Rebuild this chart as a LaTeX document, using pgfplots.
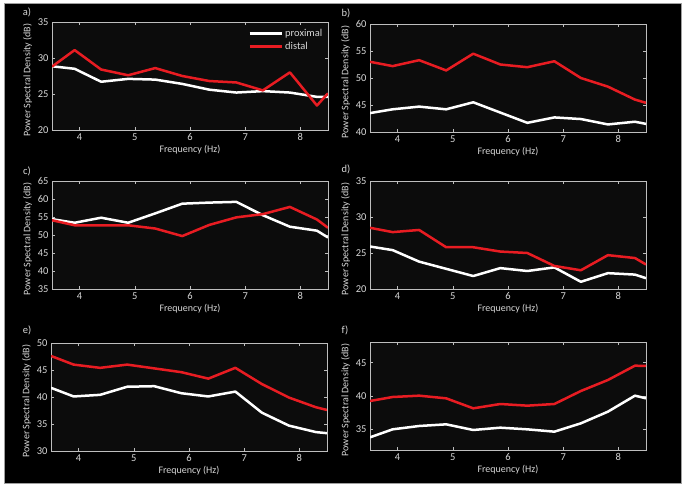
\documentclass[border=0pt]{standalone}
\usepackage{fontspec}
\setmainfont{Carlito}
\usepackage{pgfplots}
\pgfplotsset{compat=1.18}
\definecolor{fg}{RGB}{215,215,215}
\definecolor{ax}{RGB}{190,190,190}
\definecolor{pred}{RGB}{232,28,34}
\definecolor{axbg}{RGB}{12,12,12}

\pgfplotsset{psd/.style={
  scale only axis, width=276pt, height=108pt,
  xmin=3.5, xmax=8.5, xtick={4,5,6,7,8},
  axis line style={ax, line width=0.6pt},
  tick style={ax, line width=0.5pt}, tick align=inside, major tick length=3pt,
  axis background/.style={fill=axbg},
  ticklabel style={fg, font=\fontsize{10.5}{11}\selectfont},
  label style={fg, font=\fontsize{10}{12}\selectfont},
  xlabel={Frequency (Hz)}, ylabel={Power Spectral Density (dB)},
  xlabel style={yshift=2pt}, ylabel style={yshift=-1pt, xshift=-4pt},
  /pgf/number format/assume math mode=true,
  every axis plot/.append style={line width=2.5pt, line join=round, mark=none},
}}

% x = frequency (Hz), y = PSD (dB)
\pgfplotstableread{
f pa da pb db pc dc pd dd pe de pf df
3.50 28.85 28.8 43.5 53.0 54.4 54.1 25.9 28.5 41.7 47.6 33.8 39.25
3.91 28.5 31.1 44.2 52.2 53.4 52.7 25.4 27.9 40.1 46.0 35.0 39.85
4.39 26.7 28.4 44.7 53.3 54.8 52.7 23.8 28.2 40.4 45.4 35.5 40.05
4.88 27.1 27.6 44.2 51.4 53.4 52.7 22.8 25.8 41.9 46.0 35.75 39.65
5.37 27.0 28.6 45.5 54.5 56.0 51.8 21.8 25.8 42.0 45.3 34.9 38.15
5.86 26.4 27.5 43.6 52.5 58.7 49.7 22.9 25.2 40.7 44.6 35.25 38.8
6.35 25.6 26.8 41.7 52.0 59.0 52.8 22.5 25.0 40.1 43.4 35.0 38.55
6.84 25.2 26.6 42.7 53.1 59.2 54.9 23.0 23.2 41.0 45.4 34.65 38.8
7.32 25.4 25.5 42.4 50.0 55.5 55.8 21.0 22.6 37.1 42.4 35.9 40.75
7.81 25.2 28.0 41.4 48.4 52.3 57.8 22.2 24.7 34.7 39.9 37.65 42.4
8.30 24.6 23.4 41.9 46.0 51.2 54.3 22.0 24.3 33.5 38.1 40.05 44.55
8.50 24.6 25.1 41.5 45.4 49.3 52.0 21.5 23.4 33.3 37.6 39.65 44.5
}\psd

\begin{document}
\begin{tikzpicture}
\fill[white] (0pt,0pt) rectangle (684pt,487pt);
\draw[fill=black, draw=gray!75, line width=1pt] (4.5pt,4pt) rectangle (681pt,483pt);

% a)
\begin{axis}[psd, at={(52pt,465pt)}, anchor=north west,
  ymin=20, ymax=35, ytick={20,25,30,35},
  legend cell align=left,
  legend style={at={(0.71,0.95)}, anchor=north west, draw=none, fill=none,
    text=fg, font=\fontsize{10.5}{12}\selectfont, row sep=0pt, inner sep=0pt},
  legend image code/.code={\draw[#1, line width=3pt] (0pt,0pt) -- (32pt,0pt);}]
\addplot[white] table[x=f, y=pa] {\psd};
\addplot[pred] table[x=f, y=da] {\psd};
\legend{proximal, distal}
\end{axis}

% b)
\begin{axis}[psd, at={(370pt,463pt)}, anchor=north west,
  ymin=40, ymax=60, ytick={40,45,50,55,60}]
\addplot[white] table[x=f, y=pb] {\psd};
\addplot[pred] table[x=f, y=db] {\psd};
\end{axis}

% c)
\begin{axis}[psd, at={(52pt,306pt)}, anchor=north west,
  ymin=35, ymax=65, ytick={35,40,...,65}]
\addplot[white] table[x=f, y=pc] {\psd};
\addplot[pred] table[x=f, y=dc] {\psd};
\end{axis}

% d)
\begin{axis}[psd, at={(370pt,306pt)}, anchor=north west,
  ymin=20, ymax=35, ytick={20,25,30,35}]
\addplot[white] table[x=f, y=pd] {\psd};
\addplot[pred] table[x=f, y=dd] {\psd};
\end{axis}

% e)
\begin{axis}[psd, at={(51pt,144pt)}, anchor=north west,
  ymin=30, ymax=50, ytick={30,35,...,50}]
\addplot[white] table[x=f, y=pe] {\psd};
\addplot[pred] table[x=f, y=de] {\psd};
\end{axis}

% f)
\begin{axis}[psd, at={(370pt,145pt)}, anchor=north west,
  ymin=31.9, ymax=48.1, ytick={35,40,45}]
\addplot[white] table[x=f, y=pf] {\psd};
\addplot[pred] table[x=f, y=df] {\psd};
\end{axis}

\begin{scope}[every node/.style={text=fg, font=\fontsize{10.5}{12}\selectfont}]
\node at (27pt,475pt) {a)};
\node at (346pt,474pt) {b)};
\node at (27pt,316pt) {c)};
\node at (346pt,318pt) {d)};
\node at (27pt,157pt) {e)};
\node at (345pt,157pt) {f)};
\end{scope}
\end{tikzpicture}
\end{document}
